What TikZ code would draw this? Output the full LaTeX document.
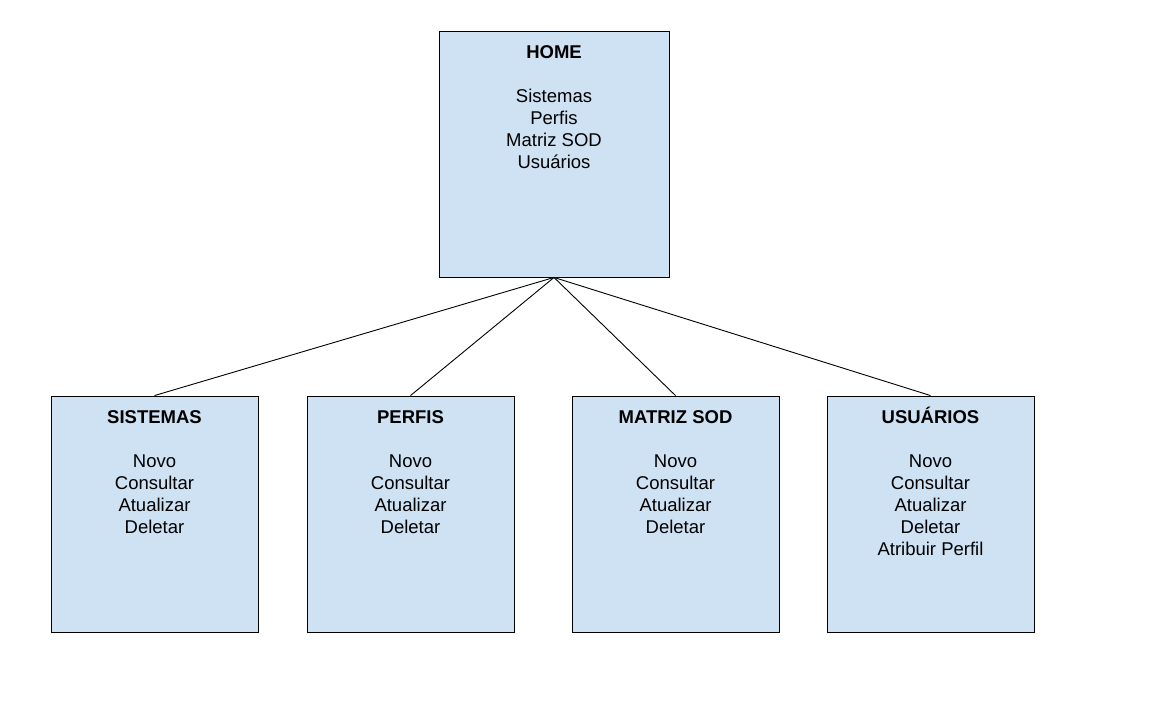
\documentclass[tikz,border=0pt]{standalone}
\usepackage{fontspec}
\setmainfont{Liberation Sans}
\definecolor{boxfill}{HTML}{CFE2F3}
\begin{document}
\begin{tikzpicture}[x=1pt,y=-1pt,
  box/.style={draw=black, fill=boxfill, line width=0.9pt, inner sep=0pt, minimum width=#1},
  box/.default=207pt,
  txt/.style={anchor=north, inner sep=0pt, align=center, font=\fontsize{18.5}{22}\selectfont},
  link/.style={draw=black, line width=0.9pt}]
\useasboundingbox (0,0) rectangle (1175,726);
\fill[white] (0,0) rectangle (1175,726);
\node[box=230pt, minimum height=246pt] (home) at (554,154) {};
\node[box, minimum height=236pt] (sis) at (154.5,514) {};
\node[box, minimum height=236pt] (per) at (410.5,514) {};
\node[box, minimum height=236pt] (mat) at (675.5,514) {};
\node[box, minimum height=236pt] (usu) at (930.5,514) {};
\node[txt] (thome) at ([yshift=-10.3pt]home.north) {\rule{0pt}{17pt}\textbf{HOME}\\[22pt]Sistemas\\Perfis\\Matriz SOD\\Usuários};
\node[txt] (tsis) at ([yshift=-10.3pt]sis.north) {\rule{0pt}{17pt}\textbf{SISTEMAS}\\[22pt]Novo\\Consultar\\Atualizar\\Deletar};
\node[txt] (tper) at ([yshift=-10.3pt]per.north) {\rule{0pt}{17pt}\textbf{PERFIS}\\[22pt]Novo\\Consultar\\Atualizar\\Deletar};
\node[txt] (tmat) at ([yshift=-10.3pt]mat.north) {\rule{0pt}{17pt}\textbf{MATRIZ SOD}\\[22pt]Novo\\Consultar\\Atualizar\\Deletar};
\node[txt] (tusu) at ([yshift=-10.3pt]usu.north) {\rule{0pt}{17pt}\textbf{USUÁRIOS}\\[22pt]Novo\\Consultar\\Atualizar\\Deletar\\Atribuir Perfil};
\draw[link] (home.south) -- (sis.north);
\draw[link] (home.south) -- (per.north);
\draw[link] (home.south) -- (mat.north);
\draw[link] (home.south) -- (usu.north);
\end{tikzpicture}
\end{document}
